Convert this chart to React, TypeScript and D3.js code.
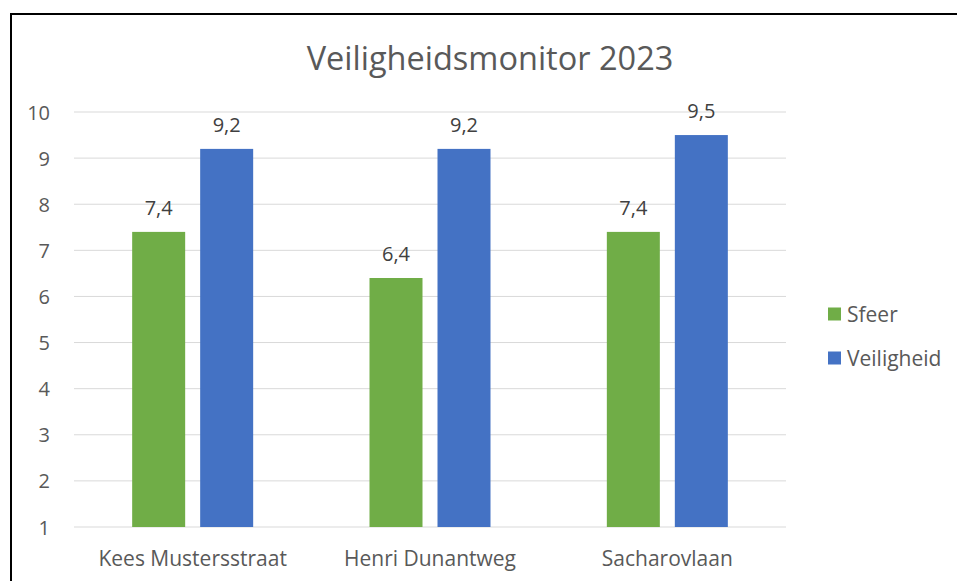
import React, { useEffect, useRef } from 'react';
import * as d3 from 'd3';

const categories = ['Kees Mustersstraat', 'Henri Dunantweg', 'Sacharovlaan'];
const seriesNames = ['Sfeer', 'Veiligheid'];
const sfeer = [7.4, 6.4, 7.4];
const veiligheid = [9.2, 9.2, 9.5];
const yTicks = [1, 2, 3, 4, 5, 6, 7, 8, 9, 10];
const colors = ['#70AD47', '#4472C4'];

export default function App() {
    const svgRef = useRef<SVGSVGElement | null>(null);

    useEffect(() => {
        const svg = d3.select(svgRef.current);
        svg.selectAll('*').remove();

        const W = 957, H = 581;
        const plot = { left: 74, right: 786, top: 112, bottom: 527 };
        const font = '"Open Sans", Lato, sans-serif';

        svg.append('rect').attr('width', W).attr('height', H).attr('fill', '#fff');

        // frame (right and bottom edges are outside the window)
        svg.append('path')
            .attr('d', `M11,${H + 5} L11,14 L${W + 5},14`)
            .attr('fill', 'none')
            .attr('stroke', '#000')
            .attr('stroke-width', 2);

        const x = d3.scaleBand().domain(categories).range([plot.left, plot.right]);
        const y = d3.scaleLinear().domain([1, 10]).range([plot.bottom, plot.top]);

        // gridlines
        svg.append('g')
            .selectAll('line')
            .data(yTicks)
            .join('line')
            .attr('x1', plot.left)
            .attr('x2', plot.right)
            .attr('y1', d => y(d))
            .attr('y2', d => y(d))
            .attr('stroke', '#d9d9d9')
            .attr('stroke-width', 1);

        // y tick labels
        svg.append('g')
            .selectAll('text')
            .data(yTicks)
            .join('text')
            .attr('x', 50)
            .attr('y', d => y(d))
            .attr('text-anchor', 'end')
            .attr('dominant-baseline', 'central')
            .attr('font-family', font)
            .attr('font-size', 20)
            .attr('fill', '#595959')
            .text(d => d);

        const barW = 53, gap = 15;
        const series = [sfeer, veiligheid];
        series.forEach((vals, si) => {
            const offset = si === 0 ? -(gap / 2 + barW) : gap / 2;
            const g = svg.append('g');
            g.selectAll('rect')
                .data(vals)
                .join('rect')
                .attr('x', (d, i) => x(categories[i])! + x.bandwidth() / 2 + offset)
                .attr('y', d => y(d))
                .attr('width', barW)
                .attr('height', d => y(1) - y(d))
                .attr('fill', colors[si]);
            g.selectAll('text')
                .data(vals)
                .join('text')
                .attr('x', (d, i) => x(categories[i])! + x.bandwidth() / 2 + offset + barW / 2)
                .attr('y', d => y(d) - 17)
                .attr('text-anchor', 'middle')
                .attr('font-family', font)
                .attr('font-size', 20)
                .attr('fill', '#404040')
                .text(d => d.toFixed(1).replace('.', ','));
        });

        // category labels
        svg.append('g')
            .selectAll('text')
            .data(categories)
            .join('text')
            .attr('x', d => x(d)! + x.bandwidth() / 2)
            .attr('y', 558)
            .attr('text-anchor', 'middle')
            .attr('dominant-baseline', 'central')
            .attr('font-family', font)
            .attr('font-size', 21)
            .attr('fill', '#595959')
            .text(d => d);

        // title
        svg.append('text')
            .attr('x', 490)
            .attr('y', 57)
            .attr('text-anchor', 'middle')
            .attr('dominant-baseline', 'central')
            .attr('font-family', font)
            .attr('font-size', 32.5)
            .attr('fill', '#595959')
            .text('Veiligheidsmonitor 2023');

        // legend
        const legend = svg.append('g')
            .selectAll('g')
            .data(seriesNames)
            .join('g')
            .attr('transform', (d, i) => `translate(828,${314 + i * 44})`);
        legend.append('rect')
            .attr('y', -6.5)
            .attr('width', 13)
            .attr('height', 13)
            .attr('fill', (d, i) => colors[i]);
        legend.append('text')
            .attr('x', 19)
            .attr('dominant-baseline', 'central')
            .attr('font-family', font)
            .attr('font-size', 21)
            .attr('fill', '#595959')
            .text(d => d);
    }, []);

    return (
        <svg
            ref={svgRef}
            width={957}
            height={581}
            style={{ position: 'absolute', left: 0, top: 0 }}
        />
    );
}
